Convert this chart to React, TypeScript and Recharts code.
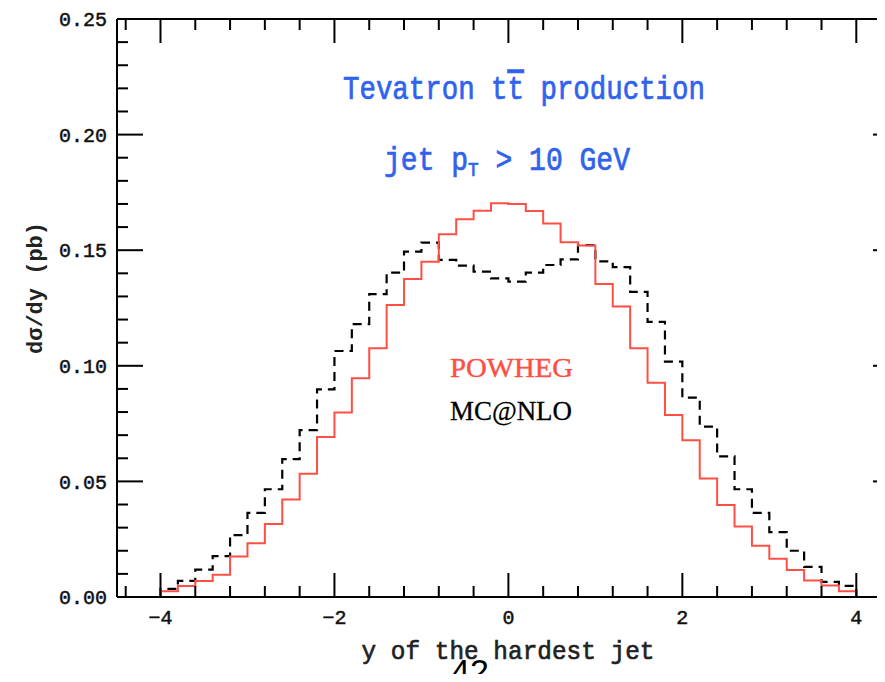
import React from 'react';
import { LineChart, Line, XAxis, YAxis } from 'recharts';

// Left edges of the 0.2-wide rapidity bins
const binEdges = [
  -4.0, -3.8, -3.6, -3.4, -3.2, -3.0, -2.8, -2.6, -2.4, -2.2,
  -2.0, -1.8, -1.6, -1.4, -1.2, -1.0, -0.8, -0.6, -0.4, -0.2,
  0.0, 0.2, 0.4, 0.6, 0.8, 1.0, 1.2, 1.4, 1.6, 1.8,
  2.0, 2.2, 2.4, 2.6, 2.8, 3.0, 3.2, 3.4, 3.6, 3.8,
];
const binWidth = 0.2;

// dsigma/dy (pb) per bin
const powheg = [
  0.0025, 0.0048, 0.0069, 0.0096, 0.0175, 0.0232, 0.0316, 0.0422, 0.0533, 0.0692,
  0.0798, 0.0946, 0.1076, 0.1263, 0.1375, 0.145, 0.1569, 0.1634, 0.1671, 0.1703,
  0.170, 0.167, 0.1616, 0.1534, 0.152, 0.1354, 0.1256, 0.1076, 0.0927, 0.0787,
  0.0678, 0.0513, 0.0398, 0.0305, 0.0222, 0.0165, 0.0117, 0.0071, 0.005, 0.0025,
];
const mcnlo = [
  0.0035, 0.007, 0.0118, 0.0177, 0.0268, 0.0364, 0.0466, 0.0596, 0.0722, 0.0898,
  0.1064, 0.118, 0.131, 0.1403, 0.1494, 0.1533, 0.1458, 0.1433, 0.1407, 0.1378,
  0.1364, 0.1403, 0.1436, 0.146, 0.1522, 0.1452, 0.1427, 0.132, 0.119, 0.1018,
  0.0862, 0.0737, 0.0608, 0.0466, 0.0364, 0.0281, 0.02, 0.013, 0.0065, 0.0048,
];

// visible rapidity window (the frame's right edge runs just past the page)
const xDomain: [number, number] = [-4.5, 4.33];
const yDomain: [number, number] = [0, 0.25];
const xMajorTicks = [-4, -2, 0, 2, 4];
const xMinorTicks = [
  -4.4, -3.6, -3.2, -2.8, -2.4, -1.6, -1.2, -0.8, -0.4,
  0.4, 0.8, 1.2, 1.6, 2.4, 2.8, 3.2, 3.6,
];
const yMajorTicks = [0, 0.05, 0.1, 0.15, 0.2, 0.25];
const yMinorTicks = [
  0.01, 0.02, 0.03, 0.04, 0.06, 0.07, 0.08, 0.09, 0.11, 0.12, 0.13, 0.14,
  0.16, 0.17, 0.18, 0.19, 0.21, 0.22, 0.23, 0.24,
];

const lastEdge = binEdges[binEdges.length - 1] + binWidth;

// Step outlines: each point is a bin's left edge, drawn with stepAfter
const powhegSteps = [
  { rap: xDomain[0], v: 0 },
  ...binEdges.map((e, i) => ({ rap: e, v: powheg[i] })),
  { rap: lastEdge, v: 0 },
  { rap: xDomain[1], v: 0 },
];
const mcnloSteps = [
  { rap: binEdges[0], v: 0 },
  ...binEdges.map((e, i) => ({ rap: e, v: mcnlo[i] })),
  { rap: lastEdge, v: 0 },
];

const RED = '#ff4f45';
const BLUE = '#2f63ee';
const MONO = '"Liberation Mono", "DejaVu Sans Mono", monospace';
const SERIF = '"Liberation Serif", "DejaVu Serif", serif';

const tickFont = { fill: '#111', stroke: '#111', strokeWidth: 0.5, fontFamily: MONO, fontSize: 20 };
const frame = { stroke: '#000', strokeWidth: 2 };

// tick marks only, no label text
const NoLabel = () => <g />;

const fmtX = (v: number) => (v < 0 ? `\u2212${Math.abs(v)}` : `${v}`);
const fmtY = (v: number) => v.toFixed(2);

export default function App() {
  const W = 885;
  const H = 682;
  return (
    <div
      style={{
        position: 'relative',
        width: 885,
        height: 682,
        margin: -8,
        overflow: 'hidden',
        background: '#fff',
      }}
    >
      <LineChart
        width={W}
        height={H}
        margin={{ top: 19, right: 0, bottom: 55, left: 57 }}
      >
        {/* bottom axis with labels */}
        <XAxis
          type="number"
          dataKey="rap"
          domain={xDomain}
          allowDataOverflow
          ticks={xMajorTicks}
          interval={0}
          tickFormatter={fmtX}
          tickLine={false}
          tickSize={0}
          tickMargin={13}
          height={30}
          axisLine={frame}
          tick={tickFont}
        />
        {/* inward tick marks, bottom */}
        <XAxis xAxisId="bMaj" type="number" dataKey="rap" domain={xDomain} allowDataOverflow mirror height={1}
          ticks={xMajorTicks} interval={0} tickSize={24} tick={NoLabel} axisLine={false} tickLine={frame} />
        <XAxis xAxisId="bMin" type="number" dataKey="rap" domain={xDomain} allowDataOverflow mirror height={1}
          ticks={xMinorTicks} interval={0} tickSize={10} tick={NoLabel} axisLine={false} tickLine={frame} />
        {/* frame and inward tick marks, top */}
        <XAxis xAxisId="tMaj" orientation="top" type="number" dataKey="rap" domain={xDomain} allowDataOverflow mirror height={1}
          ticks={xMajorTicks} interval={0} tickSize={24} tick={NoLabel} axisLine={frame} tickLine={frame} />
        <XAxis xAxisId="tMin" orientation="top" type="number" dataKey="rap" domain={xDomain} allowDataOverflow mirror height={1}
          ticks={xMinorTicks} interval={0} tickSize={10} tick={NoLabel} axisLine={false} tickLine={frame} />

        {/* left axis with labels */}
        <YAxis
          type="number"
          domain={yDomain}
          allowDataOverflow
          ticks={yMajorTicks}
          interval={0}
          tickFormatter={fmtY}
          tickLine={false}
          tickSize={0}
          tickMargin={10}
          width={60}
          axisLine={frame}
          tick={tickFont}
        />
        <YAxis yAxisId="lMaj" type="number" domain={yDomain} allowDataOverflow mirror width={1}
          ticks={yMajorTicks} interval={0} tickSize={26} tick={NoLabel} axisLine={false} tickLine={frame} />
        <YAxis yAxisId="lMin" type="number" domain={yDomain} allowDataOverflow mirror width={1}
          ticks={yMinorTicks} interval={0} tickSize={10} tick={NoLabel} axisLine={false} tickLine={frame} />
        {/* right side: only the inner part of the major ticks is in view */}
        <YAxis yAxisId="rMaj" orientation="right" type="number" domain={yDomain} allowDataOverflow mirror width={1}
          ticks={yMajorTicks} interval={0} tickSize={12} tick={NoLabel} axisLine={false} tickLine={frame} />

        <Line
          data={mcnloSteps}
          dataKey="v"
          type="stepAfter"
          stroke="#000"
          strokeWidth={2.2}
          strokeDasharray="9 6"
          dot={false}
          activeDot={false}
          isAnimationActive={false}
        />
        <Line
          data={powhegSteps}
          dataKey="v"
          type="stepAfter"
          stroke={RED}
          strokeWidth={2}
          dot={false}
          activeDot={false}
          isAnimationActive={false}
        />
      </LineChart>

      <svg
        width={885}
        height={682}
        style={{ position: 'absolute', left: 0, top: 0, pointerEvents: 'none' }}
      >
        <text transform="translate(343 99) scale(1 1.2)" fill={BLUE} stroke={BLUE} strokeWidth={0.6}
          fontFamily={MONO} fontSize={27} textLength={362} lengthAdjust="spacingAndGlyphs">
          Tevatron t<tspan style={{ textDecoration: 'overline' }}>t</tspan> production
        </text>
        <text transform="translate(384 170) scale(1 1.2)" fill={BLUE} stroke={BLUE} strokeWidth={0.6}
          fontFamily={MONO} fontSize={27} textLength={246} lengthAdjust="spacingAndGlyphs">
          jet p<tspan fontSize={17} dy={5}>T</tspan>
          <tspan dy={-5}> &gt; 10 GeV</tspan>
        </text>
        <text x={450} y={377} fill={RED} stroke={RED} strokeWidth={0.4} fontFamily={SERIF} fontSize={28}
          textLength={123} lengthAdjust="spacingAndGlyphs">
          POWHEG
        </text>
        <text x={450} y={420} fill="#000" stroke="#000" strokeWidth={0.3} fontFamily={SERIF} fontSize={28}
          textLength={122} lengthAdjust="spacingAndGlyphs">
          MC@NLO
        </text>
        <text transform="translate(508 659) scale(1 1.1)" textAnchor="middle" fill="#222" stroke="#222"
          strokeWidth={0.6} fontFamily={MONO} fontSize={24} textLength={293} lengthAdjust="spacingAndGlyphs">
          y of the hardest jet
        </text>
        <text x={42} y={288} transform="rotate(-90 42 288)" textAnchor="middle" fill="#222"
          fontFamily={MONO} fontSize={22} fontWeight="bold">
          d&#963;/dy (pb)
        </text>
        <text x={470} y={683} textAnchor="middle" fill="#000"
          fontFamily='"Liberation Sans", Arial, sans-serif' fontSize={34}>
          42
        </text>
      </svg>
    </div>
  );
}
